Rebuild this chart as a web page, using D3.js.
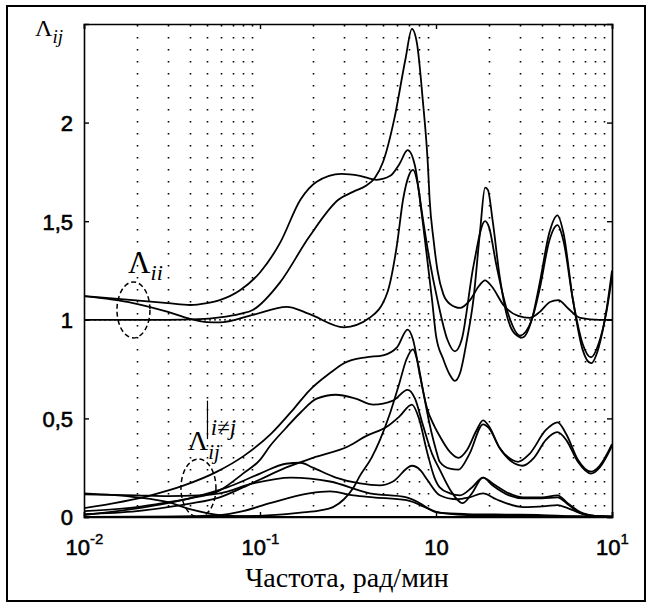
<!DOCTYPE html>
<html>
<head>
<meta charset="utf-8">
<script src="https://cdnjs.cloudflare.com/ajax/libs/d3/7.8.5/d3.min.js"></script>
<style>
body{margin:0;background:#fff;}
svg{display:block;}
</style>
</head>
<body>
<div id="chart"></div>
<script>
// diagonal elements Λii  [frequency, value]
const lam_11 = [[0.01,1.0],[0.03,1.0],[0.045,1.003],[0.059,1.012],[0.077,1.03],[0.091,1.05],[0.13,1.19],[0.19,1.42],[0.28,1.61],[0.34,1.65],[0.40,1.68],[0.45,1.72],[0.50,1.80],[0.58,2.02],[0.67,2.32],[0.73,2.475],[0.78,2.40],[0.84,2.12],[0.90,1.78],[0.92,1.61],[0.97,1.40],[1.02,1.25],[1.10,1.13],[1.2,1.08],[1.37,1.06],[1.56,1.10],[1.75,1.17],[1.9,1.20],[2.07,1.17],[2.44,1.07],[2.93,1.02],[3.41,1.01],[3.89,1.04],[4.44,1.09],[4.96,1.10],[5.6,1.06],[6.6,1.01],[8.5,1.0],[10,1.0]];
const lam_22 = [[0.01,1.12],[0.019,1.10],[0.03,1.085],[0.04,1.075],[0.05,1.085],[0.059,1.10],[0.077,1.15],[0.10,1.24],[0.13,1.39],[0.17,1.61],[0.21,1.70],[0.29,1.74],[0.37,1.73],[0.46,1.71],[0.55,1.73],[0.62,1.79],[0.69,1.86],[0.76,1.78],[0.81,1.61],[0.88,1.35],[0.95,1.10],[1.0,0.92],[1.1,0.80],[1.2,0.72],[1.28,0.69],[1.37,0.73],[1.5,0.9],[1.63,1.10],[1.78,1.45],[1.9,1.67],[1.97,1.66],[2.1,1.50],[2.3,1.22],[2.53,1.02],[2.8,0.93],[3.1,0.91],[3.5,1.0],[3.89,1.19],[4.4,1.44],[4.9,1.53],[5.3,1.44],[6.0,1.10],[6.8,0.85],[7.6,0.78],[8.4,0.86],[9.3,1.05],[10,1.25]];
const lam_33 = [[0.01,1.12],[0.019,1.085],[0.03,1.04],[0.04,1.005],[0.05,0.988],[0.059,0.987],[0.091,1.025],[0.142,1.066],[0.19,1.03],[0.30,0.962],[0.42,1.01],[0.53,1.14],[0.60,1.38],[0.65,1.61],[0.70,1.73],[0.74,1.76],[0.79,1.68],[0.83,1.55],[0.92,1.30],[1.02,1.10],[1.16,0.90],[1.28,0.84],[1.4,0.90],[1.63,1.27],[1.9,1.50],[2.0,1.47],[2.2,1.28],[2.53,1.05],[3.0,0.92],[3.5,1.0],[3.89,1.16],[4.4,1.40],[4.9,1.48],[5.3,1.40],[6.0,1.10],[6.8,0.88],[7.6,0.81],[8.4,0.88],[9.3,1.04],[10,1.22]];

// off-diagonal elements Λij, i≠j
const lam_a = [[0.01,0.045],[0.024,0.11],[0.037,0.16],[0.057,0.23],[0.081,0.31],[0.115,0.42],[0.156,0.55],[0.19,0.64],[0.25,0.73],[0.30,0.78],[0.40,0.81],[0.50,0.82],[0.60,0.86],[0.69,0.95],[0.74,0.90],[0.81,0.72],[0.89,0.55],[0.98,0.46],[1.05,0.41],[1.2,0.33],[1.34,0.30],[1.5,0.34],[1.7,0.44],[1.85,0.49],[2.0,0.46],[2.3,0.35],[2.7,0.29],[2.93,0.28],[3.4,0.32],[4.2,0.44],[4.9,0.48],[5.5,0.42],[6.4,0.29],[7.6,0.23],[8.5,0.26],[10,0.37]];
const lam_b = [[0.01,0.0],[0.05,0.002],[0.1,0.006],[0.17,0.022],[0.22,0.033],[0.26,0.05],[0.30,0.09],[0.34,0.15],[0.37,0.21],[0.43,0.30],[0.48,0.39],[0.55,0.53],[0.62,0.68],[0.68,0.80],[0.74,0.85],[0.78,0.80],[0.84,0.65],[0.92,0.47],[1.0,0.34],[1.05,0.28],[1.2,0.245],[1.34,0.24],[1.55,0.32],[1.85,0.47],[2.0,0.45],[2.3,0.35],[2.7,0.28],[3.1,0.26],[3.6,0.30],[4.2,0.39],[4.9,0.43],[5.5,0.39],[6.4,0.28],[7.6,0.22],[8.5,0.25],[10,0.36]];
const lam_c = [[0.01,0.03],[0.02,0.05],[0.03,0.075],[0.04,0.095],[0.059,0.135],[0.08,0.22],[0.1,0.29],[0.114,0.36],[0.14,0.45],[0.17,0.53],[0.21,0.60],[0.27,0.62],[0.35,0.60],[0.44,0.57],[0.57,0.59],[0.69,0.645],[0.76,0.60],[0.84,0.47],[0.95,0.32],[1.05,0.24],[1.2,0.14],[1.42,0.07],[1.6,0.12],[1.85,0.20],[2.1,0.17],[2.6,0.12],[3.14,0.10],[4.0,0.10],[4.9,0.11],[5.6,0.07],[6.6,0.025],[8,0.006],[10,0.002]];
const lam_d = [[0.01,0.015],[0.02,0.03],[0.03,0.05],[0.04,0.068],[0.059,0.10],[0.08,0.15],[0.1,0.19],[0.14,0.25],[0.2,0.30],[0.32,0.36],[0.4,0.41],[0.53,0.46],[0.62,0.51],[0.73,0.57],[0.80,0.50],[0.89,0.33],[0.98,0.20],[1.05,0.15],[1.2,0.12],[1.37,0.11],[1.6,0.15],[1.85,0.20],[2.1,0.16],[2.6,0.11],[3.14,0.095],[4.0,0.095],[4.9,0.10],[5.6,0.065],[6.6,0.02],[8,0.005],[10,0.002]];
const lam_e = [[0.01,0.01],[0.024,0.055],[0.042,0.10],[0.065,0.15],[0.1,0.22],[0.14,0.27],[0.17,0.275],[0.2,0.25],[0.27,0.20],[0.37,0.17],[0.48,0.16],[0.57,0.18],[0.73,0.26],[0.81,0.24],[0.89,0.19],[1.05,0.11],[1.3,0.09],[1.55,0.10],[1.85,0.12],[2.2,0.09],[3.14,0.05],[4.2,0.055],[4.9,0.06],[5.6,0.045],[6.6,0.02],[8,0.005],[10,0.002]];
const lam_f = [[0.01,0.115],[0.02,0.11],[0.03,0.106],[0.045,0.11],[0.059,0.12],[0.091,0.17],[0.15,0.20],[0.25,0.18],[0.42,0.12],[0.68,0.10],[0.81,0.07],[0.92,0.04],[1.05,0.022],[1.5,0.015],[2.5,0.012],[4,0.01],[6,0.004],[10,0.002]];
const lam_g = [[0.01,0.0],[0.03,0.002],[0.059,0.01],[0.08,0.03],[0.114,0.07],[0.19,0.12],[0.25,0.13],[0.34,0.11],[0.44,0.10],[0.68,0.085],[0.89,0.045],[1.0,0.025],[1.5,0.01],[3,0.005],[10,0.001]];
const lam_h = [[0.01,0.12],[0.02,0.10],[0.03,0.075],[0.04,0.04],[0.05,0.02],[0.059,0.01],[0.08,0.004],[0.12,0.001],[10,0.0]];
const ref_one = [[0.01,1],[10,1]];

const y_ticks = [0, 0.5, 1, 1.5, 2];
const y_tick_labels = ['0', '0,5', '1', '1,5', '2'];
const x_ticks = [0.01, 0.1, 1, 10];
const x_tick_labels = [['10','-2'], ['10','-1'], ['10',''], ['10','1']];
const x_title = 'Частота, рад/мин';

const width = 652, height = 604;
const margin = {left: 84, right: 40, top: 24, bottom: 87};
const tick_font = '"Liberation Sans", Arial, Helvetica, sans-serif';
const serif = '"Liberation Serif", "Times New Roman", serif';

let svg = d3.select('#chart').append('svg')
    .attr('width', width)
    .attr('height', height)
    .style('background-color', '#FFFFFF');

const x = d3.scaleLog().domain([0.01, 10]).range([margin.left, width - margin.right]);
const y = d3.scaleLinear().domain([0, 2.5]).range([height - margin.bottom, margin.top]);

// outer frame
svg.append('rect')
    .attr('x', 7).attr('y', 6)
    .attr('width', 638).attr('height', 595)
    .attr('fill', 'none')
    .attr('stroke', '#000')
    .attr('stroke-width', 2);

// minor grid: 2..9 in every decade
let grid_vals = [];
[0.01, 0.1, 1].forEach(dec => {
    for (let k = 2; k <= 9; k++) grid_vals.push(dec * k);
});
svg.append('g').selectAll('line')
    .data(grid_vals)
    .enter().append('line')
    .attr('x1', d => Math.round(x(d)) + 0.5)
    .attr('x2', d => Math.round(x(d)) + 0.5)
    .attr('y1', y(2.5) + 1)
    .attr('y2', y(0))
    .attr('stroke', '#000')
    .attr('stroke-width', 1.6)
    .attr('stroke-dasharray', '1.6,10.4');

svg.append('defs').append('clipPath').attr('id', 'plotclip')
    .append('rect')
    .attr('x', x(0.01)).attr('y', y(2.5))
    .attr('width', x(10) - x(0.01)).attr('height', y(0) - y(2.5) + 1);

const line = d3.line()
    .x(d => x(d[0]))
    .y(d => y(d[1]))
    .curve(d3.curveMonotoneX);

let curves = svg.append('g').attr('clip-path', 'url(#plotclip)');

curves.append('path')
    .attr('d', line(ref_one))
    .attr('fill', 'none')
    .attr('stroke', '#000')
    .attr('stroke-width', 1.3)
    .attr('stroke-dasharray', '2,3');

[lam_11, lam_22, lam_33, lam_a, lam_b, lam_c, lam_d, lam_e, lam_f, lam_g, lam_h].forEach(s => {
    curves.append('path')
        .attr('d', line(s))
        .attr('fill', 'none')
        .attr('stroke', '#000')
        .attr('stroke-width', 1.8)
        .attr('stroke-linejoin', 'round');
});

// axes (ticks point inwards)
let axL = svg.append('g')
    .attr('transform', `translate(${x(0.01)},0)`)
    .call(d3.axisLeft(y).tickValues(y_ticks).tickSize(-5).tickFormat((d, i) => y_tick_labels[i]).tickPadding(11));
let axR = svg.append('g')
    .attr('transform', `translate(${x(10)},0)`)
    .call(d3.axisRight(y).tickValues(y_ticks).tickSize(-5).tickFormat(''));
let axT = svg.append('g')
    .attr('transform', `translate(0,${y(2.5)})`)
    .call(d3.axisTop(x).tickValues(x_ticks).tickSize(-5).tickFormat(''));
let axB = svg.append('g')
    .attr('transform', `translate(0,${y(0)})`)
    .call(d3.axisBottom(x).tickValues(x_ticks).tickSize(-5).tickFormat(''));

[axL, axR, axT, axB].forEach(a => {
    a.select('.domain').attr('stroke', '#000').attr('stroke-width', 1.6);
    a.selectAll('.tick line').attr('stroke', '#000').attr('stroke-width', 1.4);
});
axL.selectAll('.tick text')
    .attr('font-family', tick_font)
    .attr('font-size', 22)
    .attr('fill', '#000')
    .attr('stroke', '#000')
    .attr('stroke-width', 0.6)
    .attr('dy', '0.36em');

// x tick labels with exponents
axB.selectAll('.tick').each(function(d, i) {
    let t = d3.select(this).append('text')
        .attr('y', 38)
        .attr('text-anchor', 'middle')
        .attr('font-family', tick_font)
        .attr('font-size', 22)
        .attr('fill', '#000')
        .attr('stroke', '#000')
        .attr('stroke-width', 0.6);
    t.append('tspan').text(x_tick_labels[i][0]);
    if (x_tick_labels[i][1] !== '') {
        t.append('tspan').attr('dy', -11).attr('font-size', 15).attr('stroke-width', 0.4).text(x_tick_labels[i][1]);
    }
});

// axis titles
svg.append('text')
    .attr('x', 347)
    .attr('y', 587)
    .attr('text-anchor', 'middle')
    .attr('font-family', serif)
    .attr('font-size', 28)
    .text(x_title);

let ylab = svg.append('text')
    .attr('x', 35).attr('y', 36)
    .attr('font-family', serif)
    .attr('font-size', 24);
ylab.append('tspan').text('Λ');
ylab.append('tspan').attr('dy', 7).attr('font-size', 19).attr('font-style', 'italic').text('ij');

// annotations
let ann1 = svg.append('text')
    .attr('x', x(0.0178)).attr('y', y(1.235))
    .attr('font-family', serif)
    .attr('font-size', 31);
ann1.append('tspan').text('Λ');
ann1.append('tspan').attr('dy', 7).attr('font-size', 22).attr('font-style', 'italic').text('ii');

svg.append('ellipse')
    .attr('cx', x(0.0191)).attr('cy', y(1.05))
    .attr('rx', 16.5).attr('ry', 28)
    .attr('fill', 'none').attr('stroke', '#000')
    .attr('stroke-width', 1.5).attr('stroke-dasharray', '5,3');

let ann2 = svg.append('text')
    .attr('x', x(0.0389)).attr('y', y(0.342))
    .attr('font-family', serif)
    .attr('font-size', 28);
ann2.append('tspan').text('Λ');
ann2.append('tspan').attr('dy', 9).attr('font-size', 21).attr('font-style', 'italic').text('ij');

svg.append('line')
    .attr('x1', x(0.0503)).attr('x2', x(0.0503))
    .attr('y1', y(0.59)).attr('y2', y(0.395))
    .attr('stroke', '#000').attr('stroke-width', 1.2);
svg.append('text')
    .attr('x', x(0.0525)).attr('y', y(0.415))
    .attr('font-family', serif)
    .attr('font-size', 23)
    .attr('font-style', 'italic')
    .text('i≠j');

svg.append('ellipse')
    .attr('cx', x(0.0447)).attr('cy', y(0.147))
    .attr('rx', 17.5).attr('ry', 29)
    .attr('fill', 'none').attr('stroke', '#000')
    .attr('stroke-width', 1.5).attr('stroke-dasharray', '5,3');
</script>
</body>
</html>
